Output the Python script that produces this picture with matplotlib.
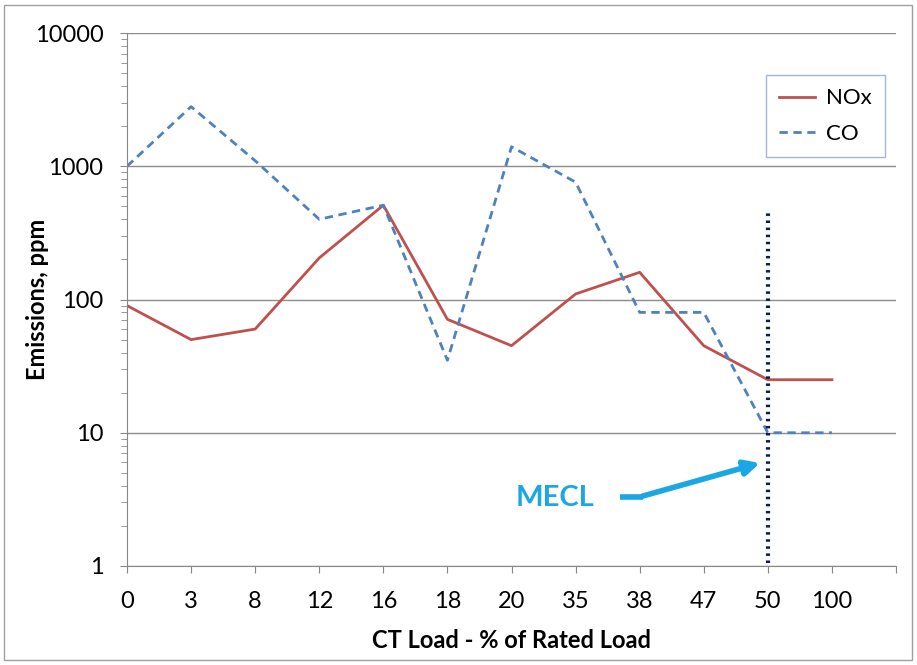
import numpy as np
import matplotlib.pyplot as plt
from matplotlib.patches import Rectangle

# dados
loads = ["0", "3", "8", "12", "16", "18", "20", "35", "38", "47", "50", "100"]
nox = [90, 50, 60, 205, 510, 71, 45, 110, 160, 45, 25, 25]
co = [1000, 2800, 1100, 400, 510, 35, 1400, 760, 80, 80, 10, 10]
mecl_idx = 10
mecl_top = 470

plt.rcParams['font.family'] = ['Lato', 'DejaVu Sans']

fig = plt.figure(figsize=(9.17, 6.65), dpi=100)
ax = fig.add_axes([127/917, 1-566/665, (896-127)/917, (566-33)/665])

x = np.arange(len(loads))
ax.plot(x, nox, color='#C0504D', lw=2.0, label='NOx')
ax.plot(x, co, color='#4F81BD', lw=2.0, ls=(0, (3, 2)), label='CO')

# linha do MECL
ax.plot([mecl_idx, mecl_idx], [1.05, mecl_top], color='#0F1A4F', lw=3, ls=(0, (0.6, 1.1)))

ax.set_yscale('log')
ax.set_ylim(1, 10000)
ax.set_xlim(0, 12)
ax.set_xticks(np.arange(13))
ax.set_xticklabels(loads + [""])
ax.set_yticks([1, 10, 100, 1000, 10000])
ax.set_yticklabels(["1", "10", "100", "1000", "10000"])
ax.tick_params(axis='both', labelsize=17, length=5, color='#888888')
ax.tick_params(axis='y', which='minor', length=4, color='#888888')
ax.tick_params(axis='y', which='major', pad=12)
ax.yaxis.set_minor_formatter(plt.NullFormatter())
ax.tick_params(axis='x', pad=13)
ax.grid(axis='y', which='major', color='#8c8c8c', lw=1)
for s in ['top', 'right']:
    ax.spines[s].set_visible(False)
for s in ['left', 'bottom']:
    ax.spines[s].set_color('#888888')

ax.set_xlabel("CT Load - % of Rated Load", fontsize=17, fontweight='bold')
ax.set_ylabel("Emissions, ppm", fontsize=17, fontweight='bold')
ax.xaxis.set_label_coords(0.5, -0.118)
ax.yaxis.set_label_coords(-0.101, 0.5)

# seta e texto
ax.annotate("", xy=(9.92, 6.0), xytext=(8.0, 3.3),
            arrowprops=dict(arrowstyle='-|>', color='#1BA6E4', lw=4, mutation_scale=22))
ax.plot([7.7, 8.05], [3.3, 3.3], color='#1BA6E4', lw=4, solid_capstyle='butt')
ax.text(6.68, 3.25, "MECL", color='#1BA6E4', fontsize=21, fontweight='bold',
        ha='center', va='center')

leg = ax.legend(loc='upper right', bbox_to_anchor=(885/917, 1-75/665),
                bbox_transform=fig.transFigure, fontsize=16, frameon=True,
                fancybox=False, handlelength=1.6, handletextpad=0.5,
                borderpad=0.6, labelspacing=0.7, borderaxespad=0)
leg.get_frame().set_edgecolor('#8FA3C8')
leg.get_frame().set_linewidth(1)

fig.patches.append(Rectangle((4/917, 5/665), 908/917, 655/665, transform=fig.transFigure,
                             fill=False, edgecolor='#a0a0a0', lw=1))

fig.savefig("out.png", dpi=100)
